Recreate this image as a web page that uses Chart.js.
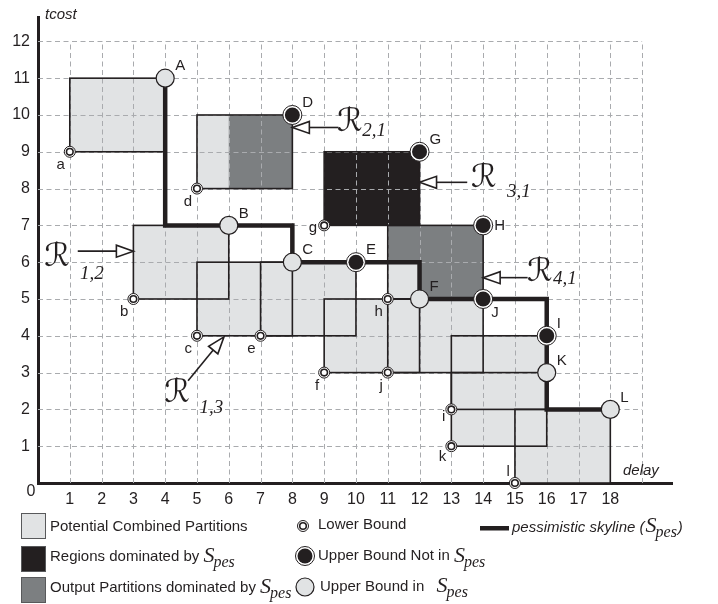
<!DOCTYPE html>
<html>
<head>
<meta charset="utf-8">
<script src="https://cdn.jsdelivr.net/npm/chart.js@4.4.1/dist/chart.umd.min.js"></script>
<style>
html, body { margin: 0; padding: 0; background: #fff; }
#wrap { width: 718px; height: 604px; }
</style>
</head>
<body>
<div id="wrap"><canvas id="skyline-plot" width="718" height="604"></canvas></div>
<script>

// lower bounds of the partitions (a..l)
const lowNames = ['a','b','c','d','e','f','g','h','i','j','k','l'];
const lowX = [1, 3, 5, 5, 7, 9, 9, 11, 13, 11, 13, 15];
const lowY = [9, 5, 4, 8, 4, 3, 7, 5, 2, 3, 1, 0];

// upper bounds of the same partitions (A..L)
const upNames = ['A','B','C','D','E','F','G','H','I','J','K','L'];
const upX = [4, 6, 8, 8, 10, 12, 12, 14, 16, 14, 16, 18];
const upY = [11, 7, 6, 10, 6, 5, 9, 7, 4, 5, 3, 2];
const upInSkyline = [true, true, true, false, false, true, false, false, false, false, true, true];

// 'combined' = potential combined partition, 'output' = output partition, 'region' = dominated region
const partKind = ['combined','combined','combined','output','combined','combined','region','output','combined','combined','combined','combined'];

// pessimistic skyline
const skyX = [4, 4, 8, 8, 12, 12, 16, 16, 18];
const skyY = [11, 7, 7, 6, 6, 5, 5, 2, 2];

const xTicks = [1,2,3,4,5,6,7,8,9,10,11,12,13,14,15,16,17,18];
const yTicks = [1,2,3,4,5,6,7,8,9,10,11,12];


const ink = '#231f20';
const light = '#e1e3e4';
const mid = '#7c7f81';
const gridCol = '#a9abae';
const sans = '"Liberation Sans", Arial, sans-serif';
const serif = '"Liberation Serif", "Times New Roman", serif';

const pts = ( xs, ys, keep ) => xs.map( ( v, i ) => ( { x: v, y: ys[i] } ) ).filter( ( p, i ) => !keep || keep(i) );

/* annotation arrows, placed in data units */
const notes = [
	{ sub: '2,1', tail: [9.45, 9.66], tip: [8, 9.66], at: [9.4, 9.8], subAt: [10.2, 9.56] },
	{ sub: '3,1', tail: [13.5, 8.17], tip: [12, 8.17], at: [13.62, 8.26], subAt: [14.75, 7.9] },
	{ sub: '1,2', tail: [1.25, 6.3], tip: [3, 6.3], at: [0.2, 6.12], subAt: [1.32, 5.68] },
	{ sub: '1,3', tail: [4.72, 2.78], tip: [5.85, 3.97], at: [3.97, 2.44], subAt: [5.08, 2.03] },
	{ sub: '4,1', tail: [15.4, 5.58], tip: [14, 5.58], at: [15.38, 5.72], subAt: [16.2, 5.54] }
];

const upLabelOffset = { H: [11, 0], J: [8, 14] };
const lowLabelOffset = { g: [-7, 2], i: [-6, 7], k: [-5, 11], l: [-5, -11] };


function drawSpes( ctx, x, y ) {
	ctx.save();
	ctx.textAlign = 'left';
	ctx.textBaseline = 'middle';
	ctx.fillStyle = ink;
	ctx.font = 'italic 22px ' + serif;
	ctx.fillText( 'S', x, y );
	const w = ctx.measureText( 'S' ).width;
	ctx.font = 'italic 16px ' + serif;
	ctx.fillText( 'pes', x + w - 1, y + 7 );
	const w2 = ctx.measureText( 'pes' ).width;
	ctx.restore();
	return w + w2 - 1;
}

function arrow( ctx, x0, y0, x1, y1 ) {
	const a = Math.atan2( y1 - y0, x1 - x0 );
	const len = 17, hw = 6;
	const bx = x1 - len * Math.cos( a ), by = y1 - len * Math.sin( a );
	ctx.beginPath();
	ctx.moveTo( x0, y0 );
	ctx.lineTo( bx, by );
	ctx.stroke();
	ctx.beginPath();
	ctx.moveTo( x1, y1 );
	ctx.lineTo( bx + hw * Math.sin( a ), by - hw * Math.cos( a ) );
	ctx.lineTo( bx - hw * Math.sin( a ), by + hw * Math.cos( a ) );
	ctx.closePath();
	ctx.fillStyle = '#fff';
	ctx.fill();
	ctx.stroke();
}


const partitionsPlugin = {
	id: 'partitions',
	beforeDatasetsDraw( chart ) {
		const { ctx, scales } = chart;
		const X = v => scales.x.getPixelForValue( v );
		const Y = v => scales.y.getPixelForValue( v );
		const box = ( x0, y0, x1, y1 ) => ctx.fillRect( X(x0), Y(y1), X(x1) - X(x0), Y(y0) - Y(y1) );
		const sky = pts( upX, upY, i => upInSkyline[i] );

		ctx.save();

		// fills
		lowX.forEach( ( x0, i ) => {
			ctx.fillStyle = partKind[i] === 'region' ? ink : light;
			box( x0, lowY[i], upX[i], upY[i] );
			if ( partKind[i] === 'output' ) {
				// part of the partition dominated by a skyline point
				ctx.fillStyle = mid;
				sky.forEach( p => {
					const gx = Math.max( x0, p.x ), gy = Math.max( lowY[i], p.y );
					if ( gx < upX[i] && gy < upY[i] ) box( gx, gy, upX[i], upY[i] );
				});
			}
		});

		// dashed grid, 0..19 x 0..12
		ctx.strokeStyle = gridCol;
		ctx.lineWidth = 1;
		ctx.setLineDash( [5, 3.5] );
		for ( let v = 1; v <= 19; v++ ) {
			const px = Math.round( X(v) ) + 0.5;
			ctx.beginPath(); ctx.moveTo( px, Y(0) ); ctx.lineTo( px, Y(12) ); ctx.stroke();
		}
		for ( let v = 1; v <= 12; v++ ) {
			const py = Math.round( Y(v) ) + 0.5;
			ctx.beginPath(); ctx.moveTo( X(0), py ); ctx.lineTo( X(19), py ); ctx.stroke();
		}
		ctx.setLineDash( [] );

		// outlines
		ctx.strokeStyle = ink;
		ctx.lineWidth = 1.6;
		lowX.forEach( ( x0, i ) => {
			ctx.strokeRect( X(x0), Y(upY[i]), X(upX[i]) - X(x0), Y(lowY[i]) - Y(upY[i]) );
		});

		ctx.restore();
	},
	afterDraw( chart ) {
		const { ctx, scales } = chart;
		const X = v => scales.x.getPixelForValue( v );
		const Y = v => scales.y.getPixelForValue( v );

		ctx.save();
		ctx.fillStyle = ink;
		ctx.textBaseline = 'middle';

		// point labels
		ctx.font = '15px ' + sans;
		ctx.textAlign = 'left';
		upNames.forEach( ( n, i ) => {
			const o = upLabelOffset[n] || [10, -12];
			ctx.fillText( n, X(upX[i]) + o[0], Y(upY[i]) + o[1] );
		});
		ctx.textAlign = 'right';
		lowNames.forEach( ( n, i ) => {
			const o = lowLabelOffset[n] || [-5, 13];
			ctx.fillText( n, X(lowX[i]) + o[0], Y(lowY[i]) + o[1] );
		});

		// axis titles and origin
		ctx.font = 'italic 15px ' + sans;
		ctx.textAlign = 'left';
		ctx.fillText( 'tcost', 45, 15 );
		ctx.fillText( 'delay', 623, 471 );
		ctx.font = '16px ' + sans;
		ctx.textAlign = 'center';
		ctx.fillText( '0', 31, 492 );

		// R annotations
		ctx.strokeStyle = ink;
		ctx.lineWidth = 1.6;
		notes.forEach( n => {
			arrow( ctx, X(n.tail[0]), Y(n.tail[1]), X(n.tip[0]), Y(n.tip[1]) );
			ctx.fillStyle = ink;
			ctx.textAlign = 'left';
			ctx.font = 'italic 32px "DejaVu Serif", "DejaVu Sans", serif';
			ctx.fillText( '\u211B', X(n.at[0]), Y(n.at[1]) );
			ctx.font = 'italic 19px ' + serif;
			ctx.fillText( n.sub, X(n.subAt[0]), Y(n.subAt[1]) );
		});

		// legend
		ctx.lineWidth = 1;
		ctx.strokeStyle = '#58595b';
		[[light, 513], [ink, 546], [mid, 577]].forEach( ( [c, top] ) => {
			ctx.fillStyle = c;
			ctx.fillRect( 21, top, 25, 26 );
			ctx.strokeRect( 21.5, top + 0.5, 24, 25 );
		});
		ctx.fillStyle = ink;
		ctx.textAlign = 'left';
		ctx.font = '15px ' + sans;
		ctx.fillText( 'Potential Combined Partitions', 50, 527 );
		let t = 'Regions dominated by ';
		ctx.fillText( t, 50, 557 );
		drawSpes( ctx, 50 + ctx.measureText( t ).width, 556 );
		t = 'Output Partitions dominated by ';
		ctx.fillText( t, 50, 588 );
		drawSpes( ctx, 50 + ctx.measureText( t ).width, 587 );

		ctx.fillText( 'Lower Bound', 318, 525 );
		t = 'Upper Bound Not in ';
		ctx.fillText( t, 318, 556 );
		drawSpes( ctx, 318 + ctx.measureText( t ).width, 556 );
		t = 'Upper Bound in  ';
		ctx.fillText( t, 320, 587 );
		drawSpes( ctx, 320 + ctx.measureText( t ).width + 4, 586 );

		// legend symbols
		const ring = ( x, y, r, fill, lw ) => {
			ctx.beginPath(); ctx.arc( x, y, r, 0, Math.PI * 2 );
			ctx.fillStyle = fill; ctx.fill();
			if ( lw ) { ctx.lineWidth = lw; ctx.strokeStyle = ink; ctx.stroke(); }
		};
		ring( 303, 526, 5.5, '#fff', 1 );
		ring( 303, 526, 3.3, '#fff', 1.6 );
		ring( 305, 556, 9.5, '#fff', 1 );
		ring( 305, 556, 7.5, ink, 0 );
		ring( 305, 587, 9, light, 1.2 );

		ctx.fillStyle = ink;
		ctx.fillRect( 480, 526, 29, 4.5 );
		ctx.font = 'italic 15px ' + sans;
		t = 'pessimistic skyline (';
		ctx.fillText( t, 512, 528 );
		let w = 512 + ctx.measureText( t ).width + 1;
		w += drawSpes( ctx, w, 526 ) + 1;
		ctx.font = 'italic 15px ' + sans;
		ctx.fillStyle = ink;
		ctx.fillText( ')', w, 528 );

		ctx.restore();
	}
};


const plotCTX = document.getElementById('skyline-plot');

const plotData = {
	datasets: [{
		label: 'pessimistic skyline',
		data: pts( skyX, skyY ),
		showLine: true,
		borderColor: ink,
		borderWidth: 4.5,
		borderJoinStyle: 'miter',
		pointRadius: 0,
		order: 9
	},{
		label: 'Upper Bound in Spes',
		data: pts( upX, upY, i => upInSkyline[i] ),
		pointRadius: 9,
		backgroundColor: light,
		borderColor: ink,
		borderWidth: 1.2,
		order: 1
	},{
		label: 'Upper Bound Not in Spes (ring)',
		data: pts( upX, upY, i => !upInSkyline[i] ),
		pointRadius: 9.5,
		backgroundColor: '#fff',
		borderColor: ink,
		borderWidth: 1,
		order: 4
	},{
		label: 'Upper Bound Not in Spes',
		data: pts( upX, upY, i => !upInSkyline[i] ),
		pointRadius: 7.5,
		backgroundColor: ink,
		borderWidth: 0,
		order: 3
	},{
		label: 'Lower Bound (ring)',
		data: pts( lowX, lowY ),
		pointRadius: 5.5,
		backgroundColor: '#fff',
		borderColor: ink,
		borderWidth: 1,
		order: 6
	},{
		label: 'Lower Bound',
		data: pts( lowX, lowY ),
		pointRadius: 3.3,
		backgroundColor: '#fff',
		borderColor: ink,
		borderWidth: 1.6,
		order: 5
	}]
};

const plotConfig = {
	type: 'scatter',
	data: plotData,
	options: {
		responsive: false,
		animation: false,
		events: [],
		clip: false,
		layout: {
			padding: { left: 0, top: 5, right: 46, bottom: 0 }
		},
		plugins: {
			legend: { display: false },
			tooltip: { enabled: false }
		},
		scales: {
			x: {
				type: 'linear',
				min: 0,
				max: 19.94,
				afterFit: scale => { scale.height = 121; },
				afterBuildTicks: scale => { scale.ticks = xTicks.map( v => ( { value: v } ) ); },
				grid: { display: false, drawTicks: false },
				border: { display: true, width: 3, color: ink },
				ticks: {
					autoSkip: false,
					maxRotation: 0,
					padding: 7,
					color: ink,
					font: { family: sans, size: 16 },
					callback: v => String( v )
				}
			},
			y: {
				type: 'linear',
				min: 0,
				max: 12.646,
				afterFit: scale => { scale.width = 38; },
				afterBuildTicks: scale => { scale.ticks = yTicks.map( v => ( { value: v } ) ); },
				grid: { display: false, drawTicks: false },
				border: { display: true, width: 3, color: ink },
				ticks: {
					autoSkip: false,
					padding: 8,
					color: ink,
					font: { family: sans, size: 16 },
					callback: v => String( v )
				}
			}
		}
	},
	plugins: [ partitionsPlugin ]
};

const plotChart = new Chart( plotCTX, plotConfig );

</script>
</body>
</html>
